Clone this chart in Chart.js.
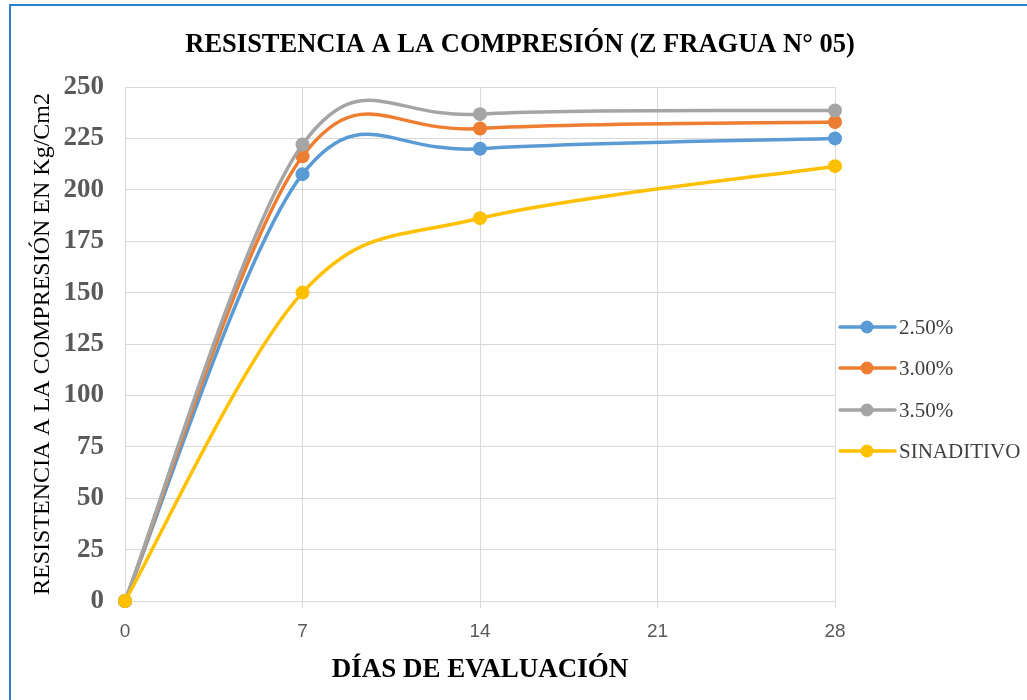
<!DOCTYPE html>
<html>
<head>
<meta charset="utf-8">
<script src="https://cdn.jsdelivr.net/npm/chart.js@4.4.1/dist/chart.umd.min.js"></script>
<style>
  html, body { margin: 0; padding: 0; background: #ffffff; }
  #wrap { position: relative; width: 1027px; height: 700px; overflow: hidden; }
  #frame { position: absolute; left: 9px; top: 4px; width: 1100px; height: 800px;
           border-top: 2px solid #2a7fd4; border-left: 2px solid #2a7fd4; }
  canvas { position: absolute; left: 0; top: 0; }
</style>
</head>
<body>
<div id="wrap">
  <div id="frame"></div>
  <canvas id="chart" width="1027" height="700"></canvas>
</div>
<script>
// Días de curado y resistencia (kg/cm²) por dosis de aditivo
const dias = [0, 7, 14, 28];
const seriesNames = ['2.50%', '3.00%', '3.50%', 'SINADITIVO'];
const r250 = [0, 207.6, 220.0, 225.0];
const r300 = [0, 216.3, 229.8, 233.0];
const r350 = [0, 222.0, 236.8, 238.6];
const sinAditivo = [0, 150.0, 186.2, 211.5];
const xTicks = [0, 7, 14, 21, 28];
const yTicks = [0, 25, 50, 75, 100, 125, 150, 175, 200, 225, 250];

const colors = ['#5b9bd5', '#ed7d31', '#a5a5a5', '#ffc000'];
const values = [r250, r300, r350, sinAditivo];

const datasets = values.map((vals, i) => ({
  label: seriesNames[i],
  data: dias.map((d, j) => ({ x: d, y: vals[j] })),
  borderColor: colors[i],
  backgroundColor: colors[i],
  pointBackgroundColor: colors[i],
  pointBorderColor: colors[i],
  pointRadius: 7,
  pointBorderWidth: 0,
  borderWidth: 3.5,
  tension: 0.4,
  capBezierPoints: false,
  clip: false,
  order: values.length - 1 - i
}));

// Curva suavizada tipo Catmull-Rom: control = P ± (Psig - Pant) / 6
const smoothPlugin = {
  id: 'catmullSmooth',
  beforeDatasetDraw(chart, args) {
    const line = args.meta.dataset;
    const pts = args.meta.data;
    if (!line || !pts.length) return;
    line.updateControlPoints(chart.chartArea, 'x');
    const n = pts.length;
    for (let i = 0; i < n; i++) {
      const prev = pts[Math.max(i - 1, 0)];
      const next = pts[Math.min(i + 1, n - 1)];
      const dx = (next.x - prev.x) / 6;
      const dy = (next.y - prev.y) / 6;
      pts[i].cp1x = pts[i].x - dx;
      pts[i].cp1y = pts[i].y - dy;
      pts[i].cp2x = pts[i].x + dx;
      pts[i].cp2y = pts[i].y + dy;
    }
    line._path = undefined;
  }
};

// Título principal
const titlePlugin = {
  id: 'mainTitle',
  afterDraw(chart) {
    const ctx = chart.ctx;
    ctx.save();
    ctx.font = 'bold 26.5px "Liberation Serif", "Times New Roman", serif';
    ctx.fillStyle = '#000000';
    ctx.textAlign = 'center';
    ctx.textBaseline = 'middle';
    ctx.fillText('RESISTENCIA A LA COMPRESIÓN (Z FRAGUA N° 05)', 520, 45);
    ctx.restore();
  }
};

// Leyenda con línea y marcador
const legendPlugin = {
  id: 'lineLegend',
  afterDraw(chart) {
    const ctx = chart.ctx;
    const x0 = chart.chartArea.right + 5;
    const rowY = [327, 368, 410, 451];
    ctx.save();
    chart.data.datasets.forEach((ds, i) => {
      const y = rowY[i];
      ctx.strokeStyle = ds.borderColor;
      ctx.lineWidth = 3.5;
      ctx.lineCap = 'round';
      ctx.beginPath();
      ctx.moveTo(x0, y);
      ctx.lineTo(x0 + 55, y);
      ctx.stroke();
      ctx.fillStyle = ds.borderColor;
      ctx.beginPath();
      ctx.arc(x0 + 27, y, 6.5, 0, Math.PI * 2);
      ctx.fill();
      ctx.fillStyle = '#404040';
      ctx.font = '21px "Liberation Serif", "Times New Roman", serif';
      ctx.textAlign = 'left';
      ctx.textBaseline = 'middle';
      ctx.fillText(ds.label, x0 + 59, y + 1);
    });
    ctx.restore();
  }
};

new Chart(document.getElementById('chart'), {
  type: 'line',
  data: { datasets },
  plugins: [smoothPlugin, titlePlugin, legendPlugin],
  options: {
    responsive: false,
    animation: false,
    devicePixelRatio: 1,
    layout: { padding: { top: 87, right: 192, bottom: 0, left: 0 } },
    plugins: {
      legend: { display: false },
      title: { display: false },
      tooltip: { enabled: false }
    },
    scales: {
      x: {
        type: 'linear',
        min: 0,
        max: 28,
        afterFit(scale) { scale.height = 99; },
        afterBuildTicks(scale) { scale.ticks = xTicks.map(v => ({ value: v })); },
        grid: { color: '#d9d9d9', lineWidth: 1, drawTicks: true, tickLength: 7, tickColor: '#d9d9d9' },
        border: { color: '#d9d9d9', width: 1 },
        ticks: {
          color: '#595959',
          padding: 12,
          font: { family: '"Liberation Sans", Arial, sans-serif', size: 19 }
        },
        title: {
          display: true,
          text: 'DÍAS DE EVALUACIÓN',
          color: '#000000',
          padding: { top: 0, bottom: 14 },
          font: { family: '"Liberation Serif", "Times New Roman", serif', size: 27, weight: 'bold' }
        }
      },
      y: {
        type: 'linear',
        min: 0,
        max: 250,
        afterFit(scale) { scale.width = 125; },
        afterBuildTicks(scale) { scale.ticks = yTicks.map(v => ({ value: v })); },
        grid: { color: '#d9d9d9', lineWidth: 1, drawTicks: false },
        border: { color: '#d9d9d9', width: 1 },
        ticks: {
          color: '#595959',
          padding: 21,
          font: { family: '"Liberation Serif", "Times New Roman", serif', size: 27, weight: 'bold' }
        },
        title: {
          display: true,
          text: 'RESISTENCIA A LA COMPRESIÓN EN Kg/Cm2',
          color: '#000000',
          padding: { top: 28, bottom: 0 },
          font: { family: '"Liberation Serif", "Times New Roman", serif', size: 24 }
        }
      }
    }
  }
});
</script>
</body>
</html>
